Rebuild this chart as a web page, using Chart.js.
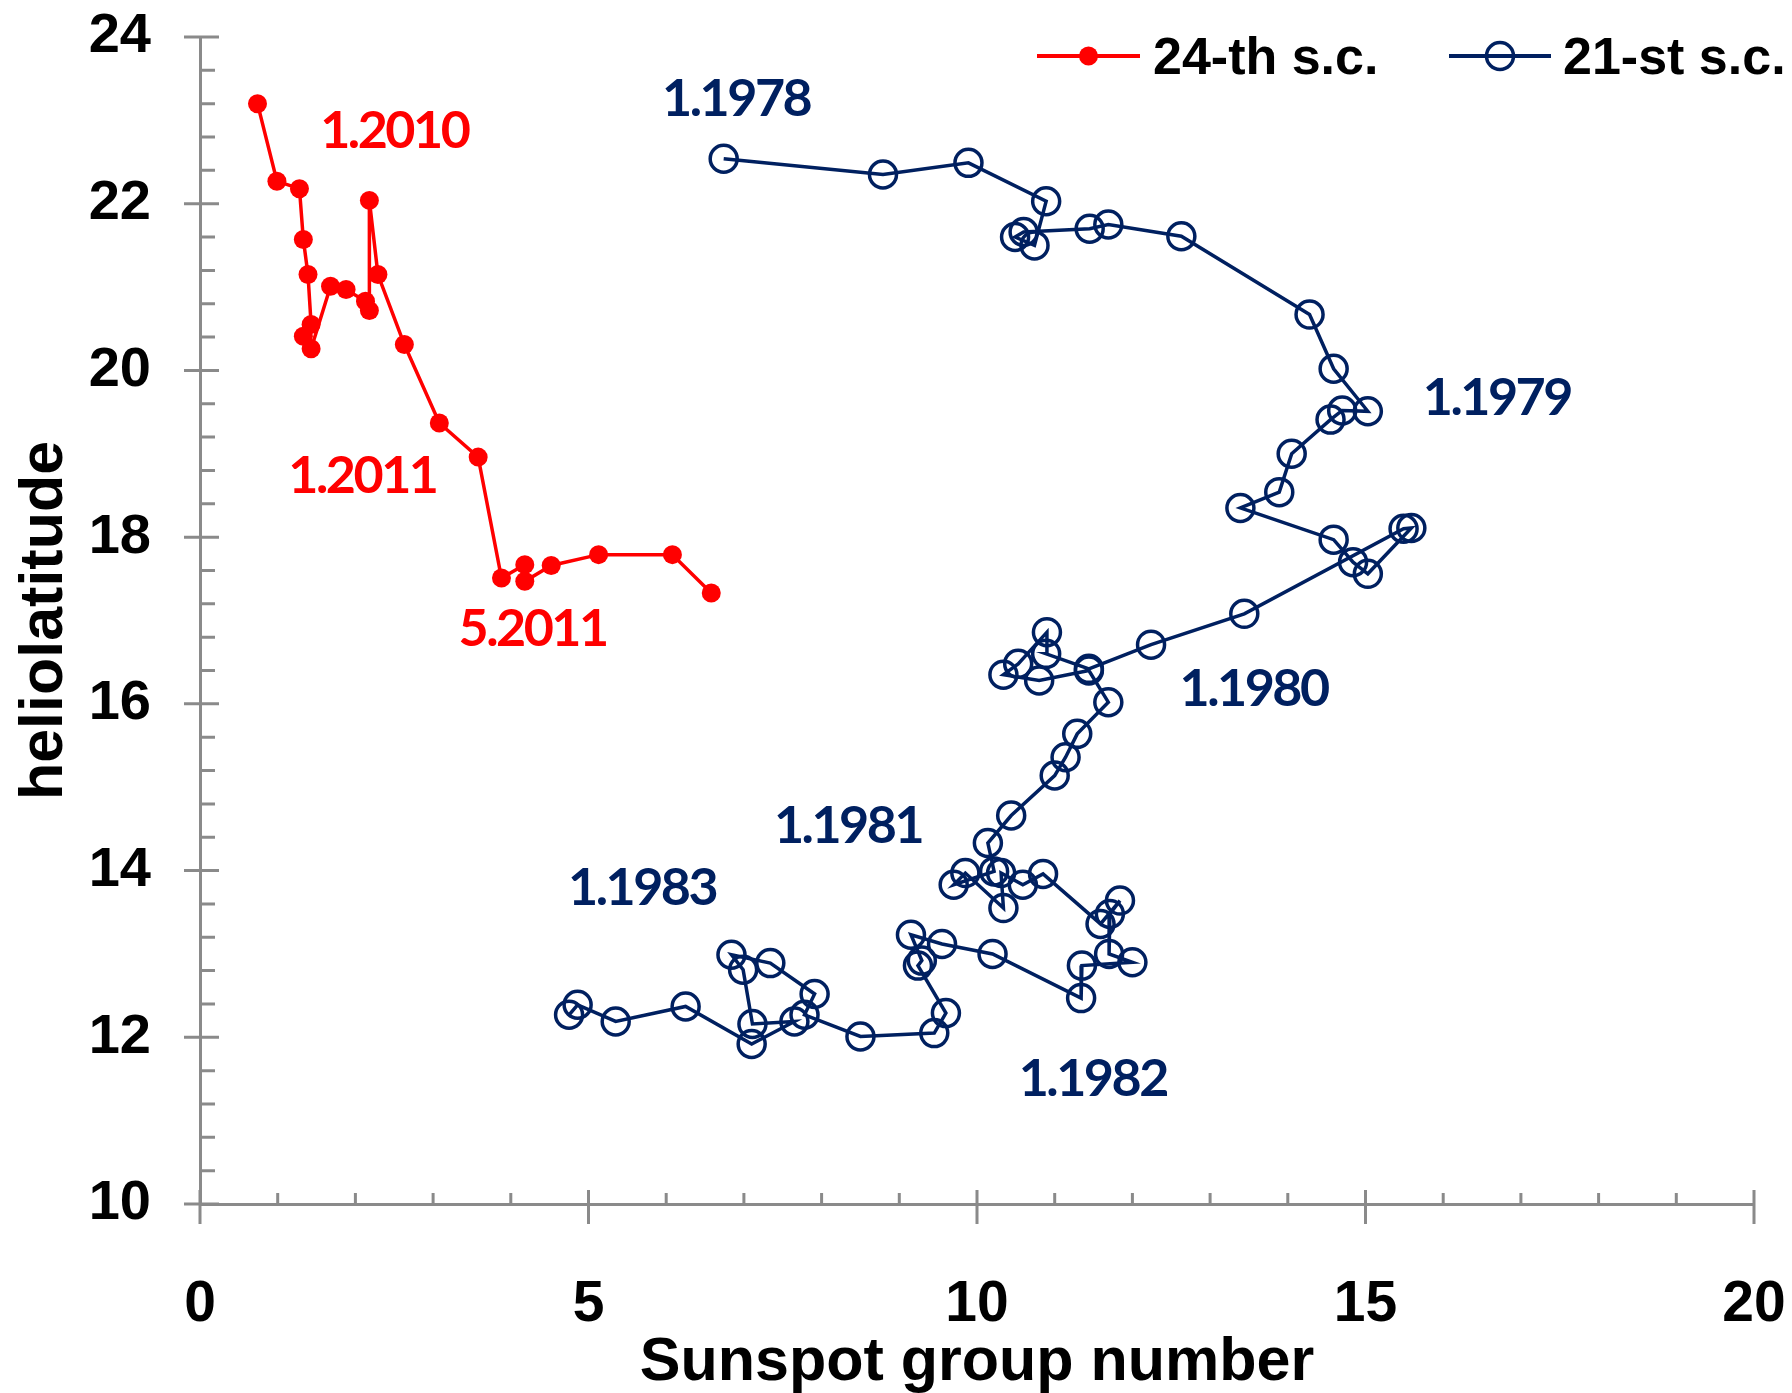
<!DOCTYPE html>
<html>
<head>
<meta charset="utf-8">
<script src="https://cdn.jsdelivr.net/npm/chart.js@4.4.1/dist/chart.umd.min.js"></script>
<style>
  html, body { margin: 0; padding: 0; background: #fff; }
  #wrap { width: 1792px; height: 1393px; }
</style>
</head>
<body>
<div id="wrap"><canvas id="chart" width="1792" height="1393"></canvas></div>
<script>
// 24th solar cycle (red, filled dots)
var sc24X = [0.74, 0.99, 1.28, 1.33, 1.39, 1.43, 1.33, 1.43, 1.68, 1.88, 2.13, 2.18,
             2.18, 2.29, 2.63, 3.08, 3.58, 3.88, 4.18, 4.18, 4.52, 5.13, 6.08, 6.58];
var sc24Y = [23.20, 22.27, 22.18, 21.57, 21.15, 20.55, 20.41, 20.26, 21.01, 20.97, 20.83, 20.72,
             22.04, 21.15, 20.31, 19.37, 18.96, 17.51, 17.67, 17.47, 17.66, 17.79, 17.79, 17.33];

// 21st solar cycle (navy, open circles)
var sc21X = [6.74, 8.79, 9.89, 10.89, 10.74, 10.49, 10.60, 11.45, 11.69, 12.63,
             14.28, 14.59, 15.03, 14.70, 14.55, 14.05, 13.89, 13.39, 14.59, 14.84,
             15.03, 15.59, 15.49, 13.44, 12.24, 11.44, 10.89, 10.90, 10.53, 10.34,
             10.80, 11.44, 11.69, 11.29, 11.14, 11.00, 10.44, 10.14, 10.22, 9.70,
             9.85, 10.34, 10.31, 10.59, 10.85, 11.59, 11.84, 11.71, 11.70, 12.00,
             11.35, 11.34, 10.20, 9.55, 9.15, 9.29, 9.24, 9.60, 9.45, 8.50,
             7.78, 7.91, 7.34, 6.84, 6.99, 7.11, 7.65, 7.10, 6.25, 5.35,
             4.86, 4.75];
var sc21Y = [22.54, 22.35, 22.49, 22.03, 21.50, 21.60, 21.66, 21.70, 21.75, 21.61,
             20.67, 20.02, 19.51, 19.52, 19.41, 19.00, 18.54, 18.35, 17.97, 17.70,
             17.56, 18.11, 18.10, 17.08, 16.71, 16.42, 16.60, 16.86, 16.48, 16.35,
             16.28, 16.40, 16.02, 15.64, 15.36, 15.14, 14.66, 14.33, 13.99, 13.83,
             13.97, 13.55, 13.97, 13.83, 13.96, 13.36, 13.64, 13.48, 13.00, 12.90,
             12.86, 12.47, 13.00, 13.12, 13.23, 12.92, 12.86, 12.29, 12.05, 12.01,
             12.27, 12.52, 12.89, 12.99, 12.81, 12.16, 12.19, 11.92, 12.37, 12.19,
             12.39, 12.27];

// date notes, placed in data units
var noteText = ['1.2010', '1.2011', '5.2011', '1.1978', '1.1979', '1.1980', '1.1981', '1.1983', '1.1982'];
var noteX    = [2.50, 2.09, 4.28, 6.90, 16.69, 13.56, 8.34, 5.69, 11.49];
var noteY    = [22.87, 18.73, 16.89, 23.25, 19.67, 16.17, 14.53, 13.79, 11.50];
var noteCycle = [24, 24, 24, 21, 21, 21, 21, 21, 21];

var xTitle = 'Sunspot group number';

var RED = '#FF0000';
var NAVY = '#002060';
var GREY = '#8a8a8a';
var FONT = "'Liberation Sans', Arial, sans-serif";

function toPoints(xs, ys) {
  var pts = [];
  for (var i = 0; i < xs.length; i++) pts.push({ x: xs[i], y: ys[i] });
  return pts;
}

// minor / major tick marks drawn from the scales
var axisTicks = {
  id: 'axisTicks',
  beforeDatasetsDraw: function (chart) {
    var ctx = chart.ctx, xs = chart.scales.x, ys = chart.scales.y, a = chart.chartArea;
    ctx.save();
    ctx.strokeStyle = GREY;
    ctx.lineWidth = 3;
    ctx.beginPath();
    for (var i = 0; i <= 35; i++) {
      var py = ys.getPixelForValue(10 + i * 0.4);
      var major = i % 5 === 0;
      ctx.moveTo(a.left - (major ? 16 : 0), py);
      ctx.lineTo(a.left + (major ? 19 : 15), py);
    }
    for (var j = 0; j <= 20; j++) {
      var px = xs.getPixelForValue(j);
      var maj = j % 5 === 0;
      ctx.moveTo(px, a.bottom - (maj ? 14 : 11));
      ctx.lineTo(px, a.bottom + (maj ? 20 : 0));
    }
    ctx.stroke();
    ctx.restore();
  }
};

// text notes, x-axis title and legend
var notesAndLegend = {
  id: 'notesAndLegend',
  afterDraw: function (chart) {
    var ctx = chart.ctx, xs = chart.scales.x, ys = chart.scales.y, a = chart.chartArea;
    ctx.save();
    ctx.font = "bold 52px Lato, 'Open Sans', sans-serif";
    ctx.letterSpacing = '-2.5px';
    ctx.textAlign = 'center';
    ctx.textBaseline = 'middle';
    for (var i = 0; i < noteText.length; i++) {
      ctx.fillStyle = noteCycle[i] === 24 ? RED : NAVY;
      ctx.fillText(noteText[i], xs.getPixelForValue(noteX[i]), ys.getPixelForValue(noteY[i]));
    }
    ctx.restore();

    // x-axis title
    ctx.save();
    ctx.font = 'bold 61px ' + FONT;
    ctx.fillStyle = '#000';
    ctx.textAlign = 'center';
    ctx.textBaseline = 'alphabetic';
    ctx.fillText(xTitle, (a.left + a.right) / 2, 1380);
    ctx.restore();

    // legend
    var ds = chart.data.datasets;
    ctx.save();
    ctx.font = 'bold 52px ' + FONT;
    ctx.textAlign = 'left';
    ctx.textBaseline = 'alphabetic';
    ctx.fillStyle = '#000';
    var items = [
      { x0: 1037, x1: 1140, tx: 1153, d: ds[0] },
      { x0: 1449, x1: 1551, tx: 1563, d: ds[1] }
    ];
    items.forEach(function (it) {
      var cy = 56, cx = (it.x0 + it.x1) / 2;
      ctx.strokeStyle = it.d.borderColor;
      ctx.lineWidth = 4;
      ctx.beginPath();
      ctx.moveTo(it.x0, cy);
      ctx.lineTo(it.x1, cy);
      ctx.stroke();
      ctx.beginPath();
      ctx.arc(cx, cy, it.d.pointRadius, 0, Math.PI * 2);
      if (it.d.pointBackgroundColor !== 'transparent') {
        ctx.fillStyle = it.d.pointBackgroundColor;
        ctx.fill();
      } else {
        ctx.lineWidth = it.d.pointBorderWidth;
        ctx.stroke();
      }
      ctx.fillStyle = '#000';
      ctx.fillText(it.d.label, it.tx, 74);
    });
    ctx.restore();
  }
};

new Chart(document.getElementById('chart'), {
  type: 'scatter',
  data: {
    datasets: [{
      label: '24-th s.c.',
      data: toPoints(sc24X, sc24Y),
      showLine: true,
      borderColor: RED,
      borderWidth: 3.5,
      pointRadius: 9.5,
      pointBackgroundColor: RED,
      pointBorderWidth: 0,
      clip: false
    }, {
      label: '21-st s.c.',
      data: toPoints(sc21X, sc21Y),
      showLine: true,
      borderColor: NAVY,
      borderWidth: 3.5,
      pointRadius: 13.5,
      pointBackgroundColor: 'transparent',
      pointBorderColor: NAVY,
      pointBorderWidth: 3.5,
      clip: false
    }]
  },
  options: {
    responsive: false,
    animation: false,
    layout: { padding: { top: 37, right: 38, bottom: 0, left: 0 } },
    plugins: {
      legend: { display: false },
      tooltip: { enabled: false }
    },
    scales: {
      x: {
        type: 'linear',
        min: 0, max: 20,
        afterFit: function (s) { s.height = 189; s.paddingLeft = 0; s.paddingRight = 0; },
        grid: { display: false, drawTicks: false },
        border: { display: true, color: GREY, width: 3 },
        ticks: { stepSize: 5, padding: 67, color: '#000', font: { family: FONT, size: 57, weight: 'bold' } },
        title: { display: false }
      },
      y: {
        type: 'linear',
        min: 10, max: 24,
        afterFit: function (s) { s.width = 200; s.paddingTop = 0; },
        grid: { display: false, drawTicks: false },
        border: { display: true, color: GREY, width: 3 },
        ticks: { stepSize: 2, padding: 49, color: '#000', font: { family: FONT, size: 56, weight: 'bold' } },
        title: {
          display: true, text: 'heliolatitude', color: '#000',
          font: { family: FONT, size: 61, weight: 'bold', lineHeight: 1.0 },
          padding: { top: 15, bottom: 0 }
        }
      }
    }
  },
  plugins: [axisTicks, notesAndLegend]
});
</script>
</body>
</html>
